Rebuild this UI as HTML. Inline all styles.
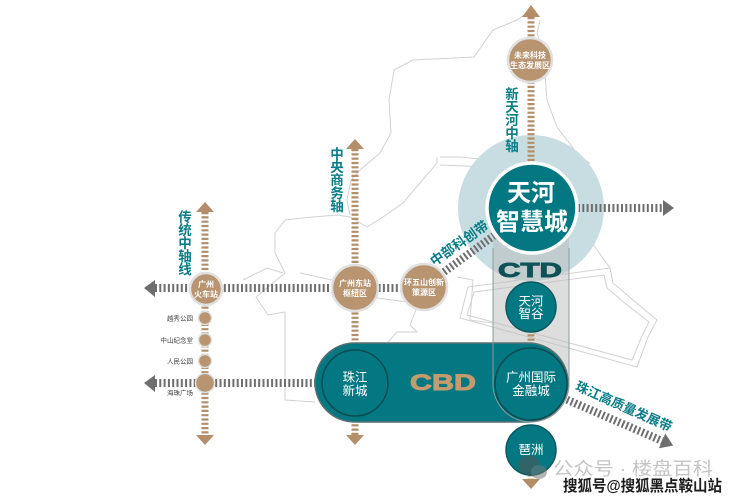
<!DOCTYPE html>
<html><head><meta charset="utf-8">
<style>
html,body{margin:0;padding:0;background:#fff;}
svg{display:block;}
text{font-family:"Liberation Sans","Noto Sans CJK SC",sans-serif;}
</style></head><body>
<svg width="740" height="500" viewBox="0 0 740 500" xmlns="http://www.w3.org/2000/svg">
<rect width="740" height="500" fill="#fff"/>

<!-- map outlines -->
<g fill="none" stroke="#d2d2d2" stroke-width="1">
<path d="M527,13 L517,20 L493,30 L474,57 L413,60 L394,70 L389,100 L391,133 L380,153 L360,170 L351,180 L347,200 L350,215"/>
<path d="M540,20 L537,33 L543,50 L547,100 L557,127 L580,157 L590,163"/>
<path d="M440,157 L460,157 L490,160 L540,160 L590,163"/>
<path d="M440,165 L490,167 L540,167 L583,173 L587,187 L583,213 L590,240 L610,268"/>
<path d="M367,227 L383,217 L403,203 L420,183 L437,163 L437,157"/>
<path d="M256,297 L285,273 L275,253 L275,233 L285,220 L313,217 L337,215 L350,217 L367,227"/>
<path d="M256,297 L268,315 L285,312 L285,400 L315,402"/>
<path d="M243,280 L267,268 L283,273"/>
<path d="M468,287 L610,268 L613,283 L633,300 L657,320 L648,337 L637,367 L460,318 Z"/>
<path d="M474,292 L604,275 L607,288 L626,304 L649,322 L642,336 L632,360 L467,315 Z"/>
<path d="M377,298 L407,302 L440,300"/>
<path d="M300,273 L332,280"/>
<path d="M388,342 L397,332 L417,332 L410,325 L418,305"/>
<path d="M457,277 L473,280 L470,320 L492,323"/>
</g>

<!-- halo -->
<circle cx="531" cy="208" r="73" fill="#c7dde2"/>

<!-- CTD rect fill -->
<path d="M493,235 V384 A38,38 0 0 0 531,422 A38,38 0 0 0 569,384 V235 Z" fill="#bcbcbc" fill-opacity="0.5"/>

<!-- brown axes -->
<g stroke="#b48e68" stroke-width="7" stroke-dasharray="2.2 2.1" fill="none">
<line x1="205" y1="212" x2="205" y2="436"/>
<line x1="355" y1="149" x2="355" y2="436"/>
<line x1="531" y1="17" x2="531" y2="170"/>
<line x1="531" y1="330" x2="531" y2="348"/>
<line x1="531" y1="470" x2="531" y2="480"/>
</g>
<g fill="#b48e68">
<polygon points="196,212 214,212 205,202"/>
<polygon points="196,435 214,435 205,445"/>
<polygon points="346,149 364,149 355,139"/>
<polygon points="346,435 364,435 355,445"/>
<polygon points="522,17 540,17 531,5"/>
<polygon points="522,479 540,479 531,489"/>
</g>

<!-- gray arrows -->
<g stroke="#6e6e6e" stroke-width="8" stroke-dasharray="2 2.3" fill="none">
<line x1="155" y1="288" x2="410" y2="288"/>
<line x1="155" y1="383" x2="318" y2="383"/>
<line x1="578" y1="208" x2="663" y2="208"/>
</g>
<g fill="#6e6e6e">
<polygon points="155,280 155,297 144,288"/>
<polygon points="155,375 155,392 144,383"/>
<polygon points="663,200 663,216 674,208"/>
</g>
<g transform="translate(437,277) rotate(-36)">
<line x1="0" y1="0" x2="70" y2="0" stroke="#6e6e6e" stroke-width="8" stroke-dasharray="2 2.3"/>
</g>
<g transform="translate(563,398) rotate(23.4)">
<line x1="0" y1="0" x2="108" y2="0" stroke="#6e6e6e" stroke-width="8" stroke-dasharray="2 2.3"/>
<polygon points="108,-8 108,8 120,0" fill="#6e6e6e"/>
</g>

<!-- CBD pill -->
<rect x="315" y="343" width="253" height="79" rx="39.5" fill="#047882" stroke="#5b6f71" stroke-width="1.5"/>
<!-- CTD rect outline -->
<path d="M493,248 V384 A38,38 0 0 0 531,422 A38,38 0 0 0 569,384 V248" fill="none" stroke="#8d9c9d" stroke-width="1"/>

<circle cx="355" cy="383" r="33" fill="none" stroke="#0b4c51" stroke-width="1.5"/>
<circle cx="531" cy="384" r="36" fill="none" stroke="#0b4c51" stroke-width="1.5"/>

<text x="443" y="390" font-size="22" font-weight="bold" fill="#c49b6c" stroke="#c49b6c" stroke-width="0.9" text-anchor="middle" textLength="66" lengthAdjust="spacingAndGlyphs">CBD</text>
<text x="530" y="277" font-size="20" font-weight="bold" fill="#0e5257" stroke="#0e5257" stroke-width="0.9" text-anchor="middle" textLength="64" lengthAdjust="spacingAndGlyphs">CTD</text>

<g fill="#fff" font-size="12.5" text-anchor="middle">
<text x="355" y="381.5">珠江</text>
<text x="355" y="395">新城</text>
<text x="531" y="381.5">广州国际</text>
<text x="531" y="395">金融城</text>
</g>

<!-- big circle -->
<circle cx="532" cy="208" r="45" fill="#047882" stroke="#fff" stroke-width="3.5"/>
<g fill="#fff" font-size="24" font-weight="bold" text-anchor="middle">
<text x="531" y="201">天河</text>
<text x="532" y="230">智慧城</text>
</g>

<!-- teal small circles -->
<circle cx="531" cy="307" r="25" fill="#047882" stroke="#0b5a60" stroke-width="1.5"/>
<circle cx="531" cy="450" r="25" fill="#047882" stroke="#0b5a60" stroke-width="1.5"/>
<g fill="#fff" font-size="12.5" text-anchor="middle">
<text x="531" y="305.5">天河</text>
<text x="531" y="318">智谷</text>
<text x="531" y="454">琶洲</text>
</g>

<!-- brown nodes -->
<g fill="#b89470" stroke="#e0e0e0" stroke-width="2.5">
<circle cx="530" cy="60" r="22"/>
<circle cx="206" cy="289" r="16"/>
<circle cx="355" cy="288" r="23"/>
<circle cx="424" cy="287" r="23"/>
<circle cx="205" cy="318" r="6.5" stroke-width="1.5"/>
<circle cx="205" cy="340" r="6.5" stroke-width="1.5"/>
<circle cx="205" cy="361" r="6.5" stroke-width="1.5"/>
<circle cx="205" cy="383" r="9.5" stroke-width="1.5"/>
</g>
<g fill="#fff" font-size="8" font-weight="bold" text-anchor="middle">
<text x="530" y="58">未来科技</text>
<text x="530" y="68">生态发展区</text>
<text x="206" y="287">广州</text>
<text x="206" y="297">火车站</text>
<text x="355" y="286">广州东站</text>
<text x="355" y="296">枢纽区</text>
<text x="424" y="285">环五山创新</text>
<text x="424" y="295">策源区</text>
</g>
<g fill="#444" font-size="6.5" text-anchor="end">
<text x="193" y="320.5">越秀公园</text>
<text x="193" y="342.5">中山纪念堂</text>
<text x="193" y="363.5">人民公园</text>
<text x="193" y="395">海珠广场</text>
</g>

<!-- vertical labels -->
<g fill="#0a7d87" font-size="13.5" font-weight="bold" text-anchor="middle">
<text x="185" y="222"><tspan x="185">传</tspan><tspan x="185" dy="13">统</tspan><tspan x="185" dy="13">中</tspan><tspan x="185" dy="13">轴</tspan><tspan x="185" dy="13">线</tspan></text>
<text x="337" y="159"><tspan x="337">中</tspan><tspan x="337" dy="13">央</tspan><tspan x="337" dy="13">商</tspan><tspan x="337" dy="13">务</tspan><tspan x="337" dy="13">轴</tspan></text>
<text x="512" y="99"><tspan x="512">新</tspan><tspan x="512" dy="13">天</tspan><tspan x="512" dy="13">河</tspan><tspan x="512" dy="13">中</tspan><tspan x="512" dy="13">轴</tspan></text>
</g>

<!-- diagonal labels -->
<text transform="translate(459,243) rotate(-35)" x="0" y="5" fill="#0a7d87" font-size="13.5" font-weight="bold" text-anchor="middle">中部科创带</text>
<text transform="translate(624,406) rotate(24)" x="0" y="5" fill="#0a7d87" font-size="13" font-weight="bold" text-anchor="middle">珠江高质量发展带</text>

<!-- watermark -->
<g opacity="0.55">
<ellipse cx="529" cy="465" rx="11" ry="9.5" fill="#555"/>
<ellipse cx="539" cy="472" rx="8" ry="7" fill="#777"/>
</g>
<text x="553" y="475" font-size="18" fill="#c4c4c4" textLength="160" lengthAdjust="spacingAndGlyphs">公众号 · 楼盘百科</text>
<text x="563" y="491" font-size="15.5" font-weight="bold" fill="#1e1e1e" stroke="#fff" stroke-width="2.5" paint-order="stroke" textLength="159" lengthAdjust="spacingAndGlyphs">搜狐号@搜狐黑点鞍山站</text>
</svg>
</body></html>
